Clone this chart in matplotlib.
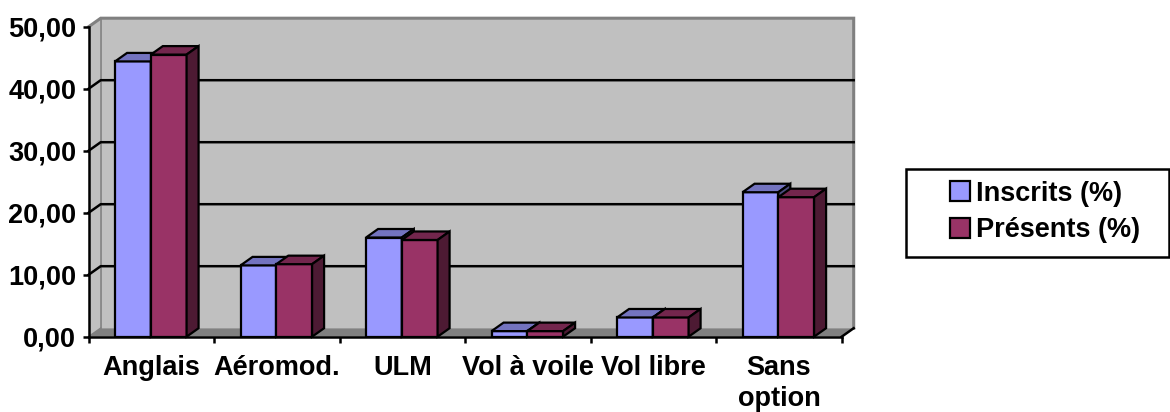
import matplotlib
matplotlib.use("Agg")
import matplotlib.pyplot as plt
from matplotlib.patches import Polygon, Rectangle, Patch
from matplotlib.ticker import FuncFormatter, FixedLocator

plt.rcParams['font.family'] = ['Liberation Sans', 'DejaVu Sans']
plt.rcParams['font.weight'] = 'bold'
plt.rcParams['font.size'] = 19

categories = ["Anglais", "Aéromod.", "ULM", "Vol à voile", "Vol libre", "Sans\noption"]
inscrits = [44.4, 11.5, 16.0, 0.9, 3.1, 23.3]
presents = [45.5, 11.7, 15.6, 0.9, 3.1, 22.5]
series_names = ["Inscrits (%)", "Présents (%)"]

W_PX, H_PX = 1170, 412
fig = plt.figure(figsize=(W_PX / 100, H_PX / 100), dpi=100)
ax = fig.add_axes([88.7 / W_PX, 1 - 336.7 / H_PX, 753 / W_PX, 310 / H_PX])
n = len(categories)
ax.set_xlim(0, n)
ax.set_ylim(0, 50)
ax.patch.set_visible(False)
for s in ("top", "right"):
    ax.spines[s].set_visible(False)
for s in ("left", "bottom"):
    ax.spines[s].set_linewidth(1.8)
    ax.spines[s].set_zorder(6)

# 3D depth offset in data units
DX = 12 * n / 753
DY = 8.5 * 50 / 310

wall = "#c0c0c0"
edge_gray = "#808080"
# side wall
ax.add_patch(Polygon([(0, 0), (DX, DY), (DX, 50 + DY), (0, 50)], closed=True,
                     fc=wall, ec="none", zorder=0, clip_on=False))
# back wall
ax.add_patch(Polygon([(DX, DY), (n + DX, DY), (n + DX, 50 + DY), (DX, 50 + DY)], closed=True,
                     fc=wall, ec="none", zorder=0, clip_on=False))
# floor
ax.add_patch(Polygon([(0, 0), (n, 0), (n + DX, DY), (DX, DY)], closed=True,
                     fc=edge_gray, ec="none", zorder=1, clip_on=False))
# wall outlines
ax.plot([0, DX, n + DX, n + DX], [50, 50 + DY, 50 + DY, DY], color=edge_gray, lw=2.2,
        zorder=1, clip_on=False, solid_joinstyle="miter")
ax.plot([DX, DX], [DY, 50 + DY], color=edge_gray, lw=1.2, zorder=1, clip_on=False)
ax.plot([0, DX], [0, DY], color=edge_gray, lw=1.2, zorder=1, clip_on=False)
ax.plot([n, n + DX], [0, DY], color="black", lw=1.8, zorder=5, clip_on=False)
# gridlines
for v in (10, 20, 30, 40):
    ax.plot([0, DX, n + DX], [v, v + DY, v + DY], color="black", lw=1.8, zorder=1,
            clip_on=False)

# bars
BW = 0.285
styles = [("#9999ff", "#7373bf", "#4d4d80"), ("#993366", "#73264d", "#4d1a33")]
for k, (vals, (front, top, side)) in enumerate(zip([inscrits, presents], styles)):
    z = 3 + k
    x0s = [i + 0.495 - BW + k * BW for i in range(n)]
    ax.bar(x0s, vals, width=BW, align="edge", color=front, edgecolor="black",
           linewidth=1.6, zorder=z)
    for x0, v in zip(x0s, vals):
        ax.add_patch(Polygon([(x0, v), (x0 + BW, v), (x0 + BW + DX, v + DY), (x0 + DX, v + DY)],
                             closed=True, fc=top, ec="black", lw=1.6, zorder=z, clip_on=False))
        ax.add_patch(Polygon([(x0 + BW, 0), (x0 + BW + DX, DY), (x0 + BW + DX, v + DY), (x0 + BW, v)],
                             closed=True, fc=side, ec="black", lw=1.6, zorder=z, clip_on=False))

# axes ticks
ax.set_yticks([0, 10, 20, 30, 40, 50])
ax.yaxis.set_major_formatter(FuncFormatter(lambda v, p: f"{v:.2f}".replace(".", ",")))
ax.tick_params(axis="y", length=4, width=1.8, pad=5, labelsize=19.5)
ax.xaxis.set_major_locator(FixedLocator(range(n + 1)))
ax.xaxis.set_major_formatter(FuncFormatter(lambda v, p: ""))
ax.xaxis.set_minor_locator(FixedLocator([i + 0.5 for i in range(n)]))
ax.set_xticklabels(categories, minor=True)
ax.tick_params(axis="x", which="major", length=4, width=1.8)
ax.tick_params(axis="x", which="minor", length=0, pad=13, labelsize=19.5)
for lab in ax.get_xticklabels(minor=True):
    lab.set_linespacing(1.25)

# legend
handles = [Patch(facecolor=s[0], edgecolor="black", linewidth=1.6) for s in styles]
fig.legend(handles, series_names, loc="center left",
           bbox_to_anchor=(950 / W_PX, 1 - 212 / H_PX), frameon=False,
           handlelength=0.72, handleheight=0.72, handletextpad=0.25,
           borderpad=0, borderaxespad=0, labelspacing=0.4, fontsize=19.5)
fig.add_artist(Rectangle((905.7 / W_PX, 1 - 257 / H_PX), (1169 - 905.7) / W_PX, 88 / H_PX,
                         transform=fig.transFigure, fill=False, ec="black", lw=1.8))

fig.savefig("out.png", dpi=100)
